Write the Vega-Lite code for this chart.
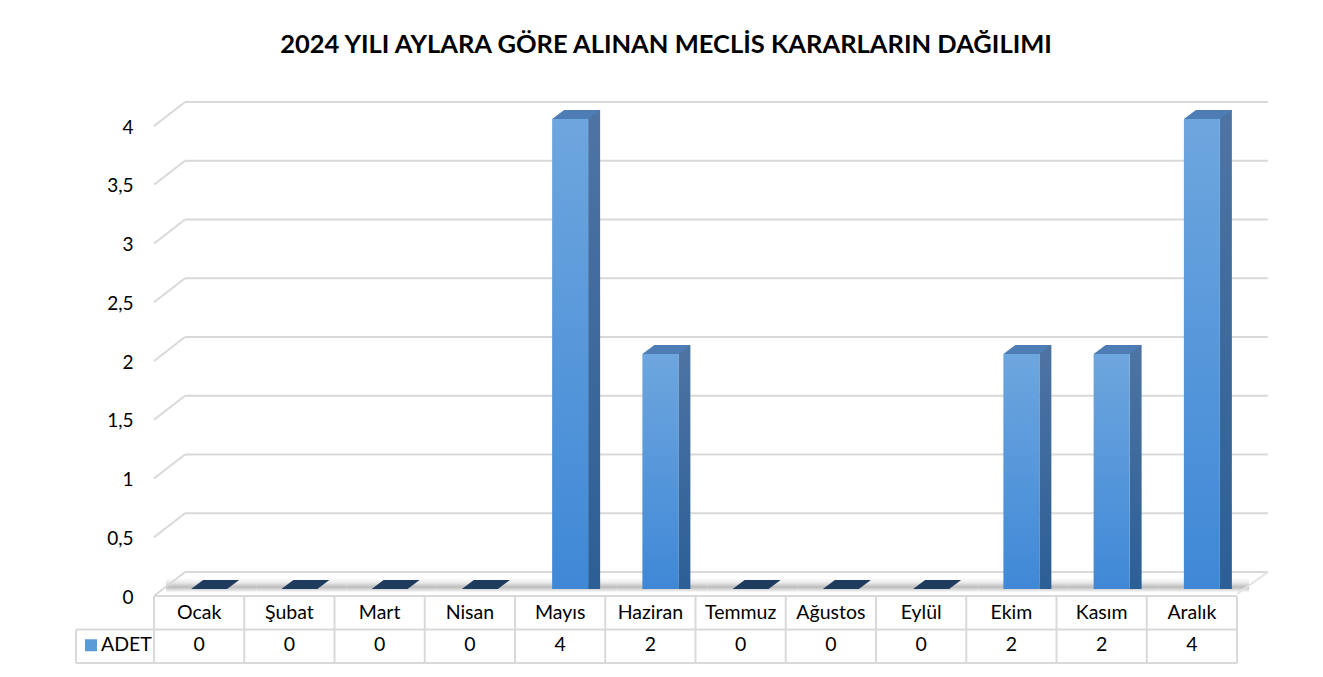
{
  "$schema": "https://vega.github.io/schema/vega-lite/v6.json",
  "padding": {"left": 75, "top": 32, "right": 10, "bottom": 10},
  "bounds": "flush",
  "spacing": 7,
  "background": "white",
  "title": {"text": "2024 YILI AYLARA GÖRE ALINAN MECLİS KARARLARIN DAĞILIMI", "font": "Lato", "fontSize": 25.5, "fontWeight": "bold", "color": "#000000", "anchor": "middle", "dx": -6, "offset": 43},
  "datasets": {
    "d": [
      {"ay": "Ocak", "ADET": 0},
      {"ay": "Şubat", "ADET": 0},
      {"ay": "Mart", "ADET": 0},
      {"ay": "Nisan", "ADET": 0},
      {"ay": "Mayıs", "ADET": 4},
      {"ay": "Haziran", "ADET": 2},
      {"ay": "Temmuz", "ADET": 0},
      {"ay": "Ağustos", "ADET": 0},
      {"ay": "Eylül", "ADET": 0},
      {"ay": "Ekim", "ADET": 2},
      {"ay": "Kasım", "ADET": 2},
      {"ay": "Aralık", "ADET": 4}
    ],
    "grid": [{"v": 0}, {"v": 0.5}, {"v": 1}, {"v": 1.5}, {"v": 2}, {"v": 2.5}, {"v": 3}, {"v": 3.5}, {"v": 4}],
    "one": [{"seri": "ADET"}]
  },
  "vconcat": [
    {
      "width": 1083,
      "height": 470,
      "layer": [
        {
          "data": {"name": "d"},
          "mark": {"type": "bar", "xOffset": 12, "yOffset": -11, "y2Offset": 3, "width": {"band": 1}, "fill": {"gradient": "linear", "x1": 0, "y1": 0, "x2": 0, "y2": 1, "stops": [{"offset": 0, "color": "#ffffff"}, {"offset": 0.35, "color": "#d8d8d8"}, {"offset": 0.65, "color": "#8f8f8f"}, {"offset": 1, "color": "#f4f4f4"}]}, "opacity": 0.6},
          "encoding": {
            "x": {"field": "ay", "type": "nominal", "sort": null, "scale": {"domain": ["Ocak", "Şubat", "Mart", "Nisan", "Mayıs", "Haziran", "Temmuz", "Ağustos", "Eylül", "Ekim", "Kasım", "Aralık"], "paddingInner": 0, "paddingOuter": 0}, "axis": null},
            "y": {"datum": 0, "type": "quantitative", "scale": {"domain": [0, 4], "nice": false}},
            "y2": {"datum": 0}
          }
        },
        {
          "data": {"name": "grid"},
          "mark": {"type": "rule", "color": "#D9D9D9", "strokeWidth": 2, "xOffset": 31, "x2Offset": 31, "yOffset": -17},
          "encoding": {
            "x": {"datum": "Ocak", "type": "nominal", "bandPosition": 0},
            "x2": {"datum": "Aralık", "bandPosition": 1},
            "y": {"field": "v", "type": "quantitative", "axis": {"values": [0, 0.5, 1, 1.5, 2, 2.5, 3, 3.5, 4], "labelExpr": "replace(format(datum.value, ''), '.', ',')", "domain": false, "ticks": false, "grid": false, "title": null, "labelFont": "Lato", "labelFontSize": 19, "labelColor": "#000000", "labelPadding": 21, "labelOffset": 8}}
          }
        },
        {
          "data": {"name": "grid"},
          "mark": {"type": "rule", "color": "#D9D9D9", "strokeWidth": 2, "x2Offset": 31, "yOffset": 7, "y2Offset": -17},
          "encoding": {
            "x": {"datum": "Ocak", "type": "nominal", "bandPosition": 0},
            "x2": {"datum": "Ocak", "bandPosition": 0},
            "y": {"field": "v", "type": "quantitative"},
            "y2": {"field": "v"}
          }
        },
        {
          "data": {"name": "one"},
          "mark": {"type": "rule", "color": "#E3E3E3", "strokeWidth": 2, "x2Offset": 31, "yOffset": 5, "y2Offset": -17},
          "encoding": {
            "x": {"datum": "Aralık", "type": "nominal", "bandPosition": 1},
            "x2": {"datum": "Aralık", "bandPosition": 1},
            "y": {"datum": 0, "type": "quantitative"},
            "y2": {"datum": 0}
          }
        },
        {
          "data": {"name": "d"},
          "transform": [{"filter": "datum.ADET > 0"}],
          "mark": {"type": "bar", "width": 12, "xOffset": 34, "yOffset": -9, "y2Offset": 0, "fill": {"gradient": "linear", "x1": 0, "y1": 0, "x2": 0, "y2": 1, "stops": [{"offset": 0, "color": "#4E74A3"}, {"offset": 1, "color": "#2C5F95"}]}},
          "encoding": {
            "x": {"field": "ay", "type": "nominal", "sort": null},
            "y": {"field": "ADET", "type": "quantitative"},
            "y2": {"datum": 0}
          }
        },
        {
          "data": {"name": "d"},
          "transform": [{"filter": "datum.ADET > 0"}],
          "mark": {"type": "bar", "width": 36, "xOffset": 10, "fill": {"gradient": "linear", "x1": 0, "y1": 0, "x2": 0, "y2": 1, "stops": [{"offset": 0, "color": "#6EA6DE"}, {"offset": 1, "color": "#3F88D6"}]}},
          "encoding": {
            "x": {"field": "ay", "type": "nominal", "sort": null},
            "y": {"field": "ADET", "type": "quantitative"},
            "y2": {"datum": 0}
          }
        },
        {
          "data": {"name": "d"},
          "mark": {"type": "point", "shape": "M-1,0.1875L-0.5,-0.1875L1,-0.1875L0.5,0.1875Z", "size": 2304, "filled": true, "opacity": 1, "strokeWidth": 0, "xOffset": 16, "yOffset": -4.5},
          "encoding": {
            "x": {"field": "ay", "type": "nominal", "sort": null},
            "y": {"field": "ADET", "type": "quantitative"},
            "color": {"condition": {"test": "datum.ADET == 0", "value": "#1F3B5E"}, "value": "#4E7CB4"}
          }
        }
      ]
    },
    {
      "width": 1083,
      "height": 67,
      "encoding": {
        "x": {"field": "ay", "type": "nominal", "sort": null, "scale": {"domain": ["Ocak", "Şubat", "Mart", "Nisan", "Mayıs", "Haziran", "Temmuz", "Ağustos", "Eylül", "Ekim", "Kasım", "Aralık"], "paddingInner": 0, "paddingOuter": 0}, "axis": null}
      },
      "layer": [
        {
          "data": {"name": "d"},
          "mark": {"type": "rule", "color": "#D9D9D9", "strokeWidth": 2},
          "encoding": {"x": {"field": "ay", "type": "nominal", "sort": null, "bandPosition": 0}}
        },
        {
          "data": {"name": "one"},
          "mark": {"type": "rule", "color": "#D9D9D9", "strokeWidth": 2},
          "encoding": {"x": {"datum": "Aralık", "type": "nominal", "bandPosition": 1}}
        },
        {
          "data": {"name": "one"},
          "mark": {"type": "rule", "color": "#D9D9D9", "strokeWidth": 2},
          "encoding": {
            "x": {"datum": "Ocak", "type": "nominal", "bandPosition": 0},
            "x2": {"datum": "Aralık", "bandPosition": 1},
            "y": {"datum": "h", "type": "nominal", "bandPosition": 0, "scale": {"domain": ["h", "v"], "paddingInner": 0, "paddingOuter": 0}, "axis": null}
          }
        },
        {
          "data": {"name": "one"},
          "mark": {"type": "rule", "color": "#D9D9D9", "strokeWidth": 2, "xOffset": -78},
          "encoding": {
            "x": {"datum": "Ocak", "type": "nominal", "bandPosition": 0},
            "x2": {"datum": "Aralık", "bandPosition": 1},
            "y": {"datum": "v", "type": "nominal", "bandPosition": 0}
          }
        },
        {
          "data": {"name": "one"},
          "mark": {"type": "rule", "color": "#D9D9D9", "strokeWidth": 2, "xOffset": -78},
          "encoding": {
            "x": {"datum": "Ocak", "type": "nominal", "bandPosition": 0},
            "x2": {"datum": "Aralık", "bandPosition": 1},
            "y": {"datum": "v", "type": "nominal", "bandPosition": 1}
          }
        },
        {
          "data": {"name": "one"},
          "mark": {"type": "rule", "color": "#D9D9D9", "strokeWidth": 2, "xOffset": -78, "x2Offset": -78},
          "encoding": {
            "x": {"datum": "Ocak", "type": "nominal", "bandPosition": 0},
            "x2": {"datum": "Ocak", "bandPosition": 0},
            "y": {"datum": "v", "type": "nominal", "bandPosition": 0},
            "y2": {"datum": "v", "bandPosition": 1}
          }
        },
        {
          "data": {"name": "d"},
          "mark": {"type": "text", "font": "Lato", "fontSize": 19.5, "color": "#000000", "baseline": "middle", "dy": 0},
          "encoding": {
            "y": {"datum": "h", "type": "nominal"},
            "text": {"field": "ay"}
          }
        },
        {
          "data": {"name": "d"},
          "mark": {"type": "text", "font": "Lato", "fontSize": 19.5, "color": "#000000", "baseline": "middle", "dy": -1},
          "encoding": {
            "y": {"datum": "v", "type": "nominal"},
            "text": {"field": "ADET"}
          }
        },
        {
          "data": {"name": "one"},
          "mark": {"type": "text", "font": "Lato", "fontSize": 19.5, "color": "#000000", "baseline": "middle", "align": "left", "dx": -53, "dy": -1},
          "encoding": {
            "x": {"datum": "Ocak", "type": "nominal", "bandPosition": 0},
            "y": {"datum": "v", "type": "nominal"},
            "text": {"field": "seri"}
          }
        },
        {
          "data": {"name": "one"},
          "mark": {"type": "point", "shape": "square", "size": 144, "filled": true, "opacity": 1, "color": "#5B9BD5", "xOffset": -63, "yOffset": -1},
          "encoding": {
            "x": {"datum": "Ocak", "type": "nominal", "bandPosition": 0},
            "y": {"datum": "v", "type": "nominal"}
          }
        }
      ]
    }
  ],
  "config": {"view": {"stroke": null}, "font": "Lato"}
}
